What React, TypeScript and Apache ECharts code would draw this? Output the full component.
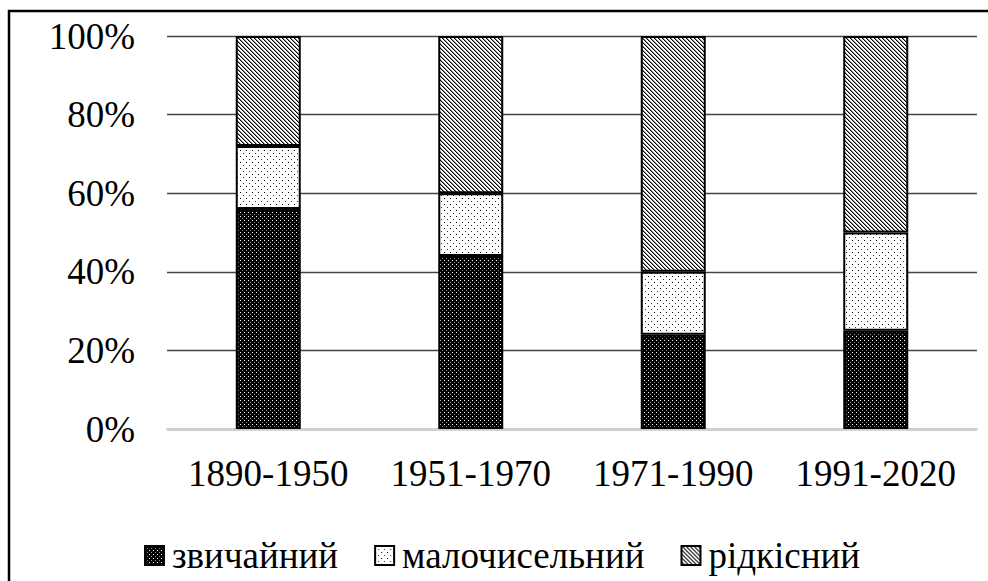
import React, { useEffect, useRef } from "react";
import * as echarts from "echarts";

const categories = ["1890-1950", "1951-1970", "1971-1990", "1991-2020"];
const seriesNames = ["звичайний", "малочисельний", "рідкісний"];
const commonValues = [56, 44, 24, 25];
const fewValues = [16, 16, 16, 25];
const rareValues = [28, 40, 60, 50];
const yTicks = [0, 20, 40, 60, 80, 100];

function makeTile(size: number, bg: string, pixels: [number, number, string][]): string {
  const c = document.createElement("canvas");
  c.width = size;
  c.height = size;
  const ctx = c.getContext("2d")!;
  ctx.fillStyle = bg;
  ctx.fillRect(0, 0, size, size);
  for (const [x, y, col] of pixels) {
    ctx.fillStyle = col;
    ctx.fillRect(x, y, 1, 1);
  }
  return c.toDataURL();
}

export default function App() {
  const ref = useRef<HTMLDivElement>(null);
  useEffect(() => {
    if (!ref.current) return;
    const dark = makeTile(4, "#000", [
      [0, 0, "#ffffff"],
      [2, 2, "#8a8a8a"],
    ]);
    const dotted = makeTile(6, "#fff", [
      [0, 0, "#000"],
      [3, 3, "#333"],
    ]);
    const stripePx: [number, number, string][] = [];
    for (let i = 0; i < 4; i++) {
      stripePx.push([i, i, "#000"]);
      stripePx.push([(i + 1) % 4, i, "#8c8c8c"]);
    }
    const stripes = makeTile(4, "#fff", stripePx);

    const patterns = [dark, dotted, stripes];
    const values = [commonValues, fewValues, rareValues];
    const font = "'Liberation Serif', 'DejaVu Serif', serif";

    const chart = echarts.init(ref.current, undefined, { renderer: "svg" });
    chart.setOption({
      animation: false,
      backgroundColor: "#fff",
      textStyle: { fontFamily: font },
      grid: { left: 167, right: 11, top: 36, bottom: 152 },
      legend: {
        left: 139,
        top: 532,
        itemWidth: 19,
        itemHeight: 19,
        itemGap: 36,
        icon: "rect",
        data: seriesNames,
        textStyle: { fontSize: 37, color: "#000", fontFamily: font, padding: [0, 0, 0, 3] },
      },
      xAxis: {
        type: "category",
        data: categories,
        axisTick: { show: false },
        axisLine: { show: true, lineStyle: { color: "#d0d0d0", width: 2 } },
        axisLabel: { fontSize: 37, color: "#000", fontFamily: font, margin: 26, interval: 0 },
      },
      yAxis: {
        type: "value",
        min: yTicks[0],
        max: yTicks[yTicks.length - 1],
        interval: 20,
        axisLine: { show: false },
        axisTick: { show: false },
        splitLine: { lineStyle: { color: "#444", width: 1.3 } },
        axisLabel: {
          fontSize: 37,
          color: "#000",
          fontFamily: font,
          margin: 32,
          formatter: "{value}%",
        },
      },
      series: seriesNames.map((name, i) => ({
        name,
        type: "bar",
        stack: "total",
        barWidth: 65,
        data: values[i],
        itemStyle: {
          color: { image: patterns[i], repeat: "repeat" },
          borderColor: "#000",
          borderWidth: 2,
        },
      })),
      graphic: [
        {
          type: "rect",
          shape: { x: 9, y: 11, width: 1000, height: 600 },
          style: { fill: "none", stroke: "#000", lineWidth: 2.5 },
          silent: true,
          z: 100,
        },
      ],
    });
    return () => chart.dispose();
  }, []);
  return (
    <div
      ref={ref}
      style={{ position: "fixed", left: 0, top: 0, width: 988, height: 581 }}
    />
  );
}
